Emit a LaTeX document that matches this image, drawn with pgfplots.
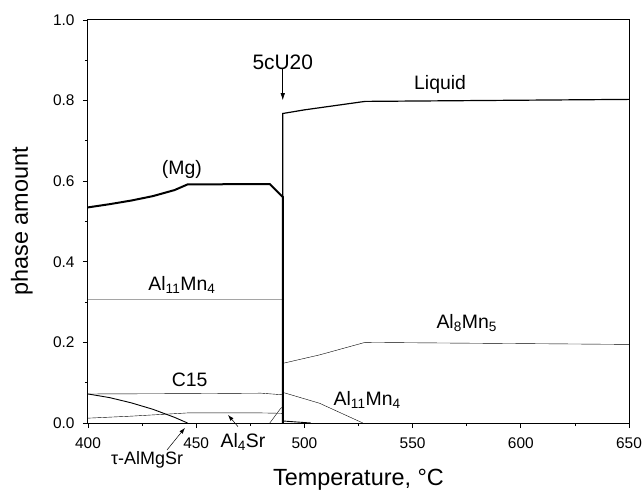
\documentclass[border=0pt]{standalone}
\usepackage{fontspec}
\setmainfont{Liberation Sans}
\usepackage{pgfplots}
\pgfplotsset{compat=1.18}
\usetikzlibrary{arrows.meta}
\begin{document}
\begin{tikzpicture}
\begin{axis}[
  scale only axis, width=541bp, height=403bp,
  at={(0,0)}, anchor=south west,
  xmin=400, xmax=650, ymin=0, ymax=1,
  xtick={400,450,500,550,600,650},
  ytick={0,0.2,0.4,0.6,0.8,1.0},
  minor x tick num=1, minor y tick num=1,
  tick align=outside, xtick pos=bottom, ytick pos=left,
  major tick length=5bp, minor tick length=3bp,
  tick style={black, line width=0.8bp},
  axis line style={line width=1bp},
  /pgf/number format/assume math mode=true,
  yticklabel style={xshift=-5bp, /pgf/number format/.cd, fixed, fixed zerofill, precision=1},
  xticklabel style={yshift=-6bp, /pgf/number format/.cd, fixed, 1000 sep={}},
  ticklabel style={font=\fontsize{15.5}{18}\selectfont},
  xlabel={Temperature, °C}, ylabel={phase amount},
  xlabel style={at={(axis description cs:0.5,-0.154)}, anchor=base, font=\fontsize{23.5}{28}\selectfont},
  ylabel style={at={(axis description cs:-0.111,0.5)}, anchor=base, rotate=0, font=\fontsize{23.5}{28}\selectfont},
  clip=false,
  cycle list={{black, line width=0.9bp, mark=none}},
]
% (Mg)
\addplot[black, line width=2bp] coordinates {(400,0.535)(410,0.543)(420,0.552)(430,0.563)(440,0.578)(446,0.592)(484,0.593)(490,0.561)(490,0)};
% Liquid
\addplot[black, line width=1.2bp] coordinates {(490,0)(490,0.768)(500,0.777)(512,0.786)(528,0.798)(650,0.803)};
% Al11Mn4
\addplot coordinates {(400,0.307)(490,0.307)(490,0.076)(507,0.049)(527,0)};
% C15
\addplot coordinates {(400,0.072)(450,0.073)(480,0.074)(490,0.070)};
% tau-AlMgSr
\addplot coordinates {(400,0.072)(410,0.063)(420,0.050)(430,0.034)(440,0.014)(446,0)};
% Al4Sr
\addplot coordinates {(400,0.012)(420,0.017)(446,0.025)(480,0.025)(490,0.024)};
% other phase near 490
\addplot coordinates {(484,0)(489,0.036)(490,0.040)};
\addplot coordinates {(490,0.005)(503,0)};
% Al8Mn5
\addplot coordinates {(490,0.148)(507,0.169)(528,0.200)(650,0.195)};

\node[font=\fontsize{21}{25}\selectfont] at (axis cs:490,0.896) {5cU20};
\draw[-{Latex[length=7bp,width=4.5bp]}, line width=0.6bp] (axis cs:490,0.881) -- (axis cs:490,0.801);
\node[font=\fontsize{19.5}{23}\selectfont] at (axis cs:443.4,0.628) {(Mg)};
\node[font=\fontsize{19.5}{23}\selectfont] at (axis cs:562.7,0.839) {Liquid};
\node[font=\fontsize{19.5}{23}\selectfont] at (axis cs:443.4,0.342) {Al\textsubscript{11}Mn\textsubscript{4}};
\node[font=\fontsize{19.5}{23}\selectfont] at (axis cs:447,0.107) {C15};
\node[font=\fontsize{19.5}{23}\selectfont] at (axis cs:575,0.248) {Al\textsubscript{8}Mn\textsubscript{5}};
\node[font=\fontsize{19.5}{23}\selectfont] at (axis cs:529,0.057) {Al\textsubscript{11}Mn\textsubscript{4}};
\node[font=\fontsize{19.5}{23}\selectfont] at (axis cs:471.6,-0.046) {Al\textsubscript{4}Sr};
\draw[-{Latex[length=6bp,width=4bp]}, line width=0.5bp] (axis cs:469.3,-0.009) -- (axis cs:464.7,0.020);
\node[font=\fontsize{18}{22}\selectfont] at (axis cs:427.3,-0.092) {τ-AlMgSr};
\draw[-{Latex[length=6bp,width=4bp]}, line width=0.5bp] (axis cs:436.5,-0.067) -- (axis cs:444.8,-0.012);
\end{axis}
\pgfresetboundingbox
\path[use as bounding box] (-88bp,-68bp) rectangle (555bp,423bp);
\end{tikzpicture}
\end{document}
